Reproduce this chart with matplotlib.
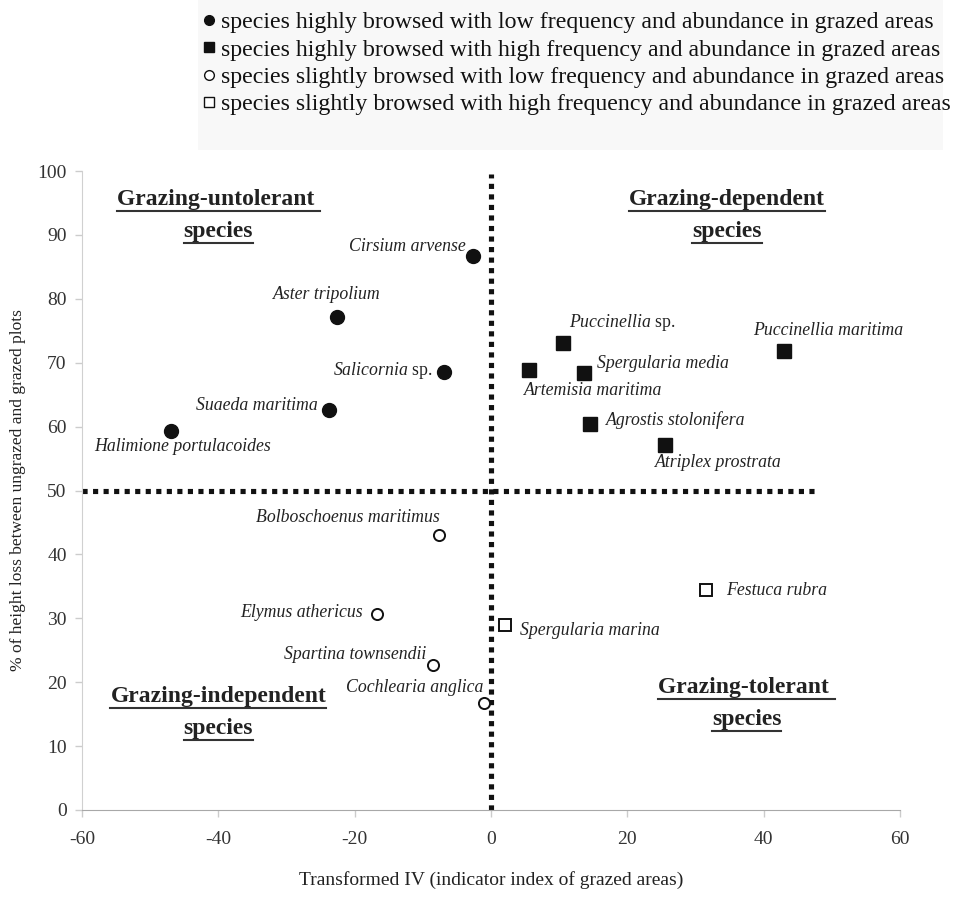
import matplotlib
matplotlib.use("Agg")
import matplotlib.pyplot as plt
from matplotlib.lines import Line2D
from matplotlib.patches import Rectangle

plt.rcParams['font.family'] = ['Liberation Serif', 'DejaVu Serif']
plt.rcParams['mathtext.fontset'] = 'custom'
plt.rcParams['mathtext.it'] = 'Liberation Serif:italic'
plt.rcParams['mathtext.rm'] = 'Liberation Serif'

# ---- data ----
hb_low_names = ["Cirsium arvense", "Aster tripolium", "$\\mathit{Salicornia}$ sp.",
                "Suaeda maritima", "Halimione portulacoides"]
hb_low_x = [-2.6, -22.6, -6.9, -23.8, -46.9]
hb_low_y = [86.7, 77.2, 68.5, 62.6, 59.3]

hb_high_names = ["$\\mathit{Puccinellia}$ sp.", "Artemisia maritima", "Spergularia media",
                 "Puccinellia maritima", "Agrostis stolonifera", "Atriplex prostrata"]
hb_high_x = [10.6, 5.6, 13.6, 43.0, 14.5, 25.5]
hb_high_y = [73.1, 68.9, 68.4, 71.8, 60.4, 57.1]

sb_low_names = ["Bolboschoenus maritimus", "Elymus athericus", "Spartina townsendii",
                "Cochlearia anglica"]
sb_low_x = [-7.6, -16.7, -8.5, -1.0]
sb_low_y = [43.0, 30.7, 22.7, 16.7]

sb_high_names = ["Spergularia marina", "Festuca rubra"]
sb_high_x = [2.1, 31.5]
sb_high_y = [29.0, 34.4]

legend_labels = [
    "species highly browsed with low frequency and abundance in grazed areas",
    "species highly browsed with high frequency and abundance in grazed areas",
    "species slightly browsed with low frequency and abundance in grazed areas",
    "species slightly browsed with high frequency and abundance in grazed areas",
]
x_ticks = [-60, -40, -20, 0, 20, 40, 60]
y_ticks = [0, 10, 20, 30, 40, 50, 60, 70, 80, 90, 100]

# label offsets in pixels (dx, dy, ha)
hb_low_off = [(-8, 9, 'right'), (-10, 22, 'center'), (-12, 2, 'right'), (-11, 4, 'right'), (11, -15, 'center')]
hb_high_off = [(6, 20, 'left'), (-5, -21, 'left'), (13, 9, 'left'), (-31, 21, 'left'), (16, 4, 'left'), (-10, -17, 'left')]
sb_low_off = [(1, 18, 'right'), (-14, 1, 'right'), (-7, 10, 'right'), (-1, 16, 'right')]
sb_high_off = [(15, -6, 'left'), (20, 0, 'left')]

fig = plt.figure(figsize=(9.6, 8.98), dpi=100)
ax = fig.add_axes([82/960, 88/898, 818/960, 639/898])

# legend background
fig.patches.append(Rectangle((198/960, 1 - 150/898), 745/960, 150/898,
                             transform=fig.transFigure, facecolor='#f8f8f8',
                             edgecolor='none', zorder=0))

# reference lines
ax.plot([0, 0], [0, 99.5], color='#111111', lw=3.7, linestyle=(0, (1, 1.05)),
        dash_capstyle='butt', zorder=2)
ax.plot([-60, 48], [50, 50], color='#111111', lw=3.7, linestyle=(0, (1, 1.05)),
        dash_capstyle='butt', zorder=2)

ax.plot(hb_low_x, hb_low_y, 'o', ms=10, color='#111111', ls='none', zorder=3)
ax.plot(hb_high_x, hb_high_y, 's', ms=9.5, color='#111111', ls='none', zorder=3)
ax.plot(sb_low_x, sb_low_y, 'o', ms=8, mfc='white', mec='#111111', mew=1.4, ls='none', zorder=3)
ax.plot(sb_high_x, sb_high_y, 's', ms=8.5, mfc='white', mec='#111111', mew=1.4, ls='none', zorder=3)

def label(names, xs, ys, offs):
    for n, x, y, (dx, dy, ha) in zip(names, xs, ys, offs):
        style = 'normal' if '$' in n else 'italic'
        ax.annotate(n, (x, y), xytext=(dx, dy), textcoords='offset pixels',
                    ha=ha, va='center', fontsize=12.8, fontstyle=style, color='#222222')

label(hb_low_names, hb_low_x, hb_low_y, hb_low_off)
label(hb_high_names, hb_high_x, hb_high_y, hb_high_off)
label(sb_low_names, sb_low_x, sb_low_y, sb_low_off)
label(sb_high_names, sb_high_x, sb_high_y, sb_high_off)

# quadrant titles
quad = [("Grazing-untolerant ", -40.0, 95.5), ("species", -40.0, 90.5),
        ("Grazing-dependent", 34.6, 95.5), ("species", 34.6, 90.5),
        ("Grazing-independent", -40.0, 17.7), ("species", -40.0, 12.7),
        ("Grazing-tolerant ", 37.5, 19.1), ("species", 37.5, 14.2)]
qtexts = []
for t, x, y in quad:
    qtexts.append(ax.text(x, y, t, ha='center', va='center', fontsize=17,
                          fontweight='bold', color='#222222'))

ax.set_xlim(-60, 60)
ax.set_ylim(0, 100)
ax.set_xticks(x_ticks)
ax.set_yticks(y_ticks)
ax.set_xticklabels([str(v) for v in x_ticks])
ax.tick_params(axis='both', labelsize=14, colors='#333333', direction='out', length=5, width=1)
ax.tick_params(axis='x', pad=10, color='#cccccc')
ax.tick_params(axis='y', pad=6, color='#cccccc')
for s in ['top', 'right']:
    ax.spines[s].set_visible(False)
ax.spines['left'].set_color('#d0d0d0')
ax.spines['bottom'].set_color('#a8a8a8')
ax.set_xlabel("Transformed IV (indicator index of grazed areas)", fontsize=14,
              color='#222222', labelpad=17)
ax.set_ylabel("% of height loss between ungrazed and grazed plots", fontsize=12.5,
              color='#222222', labelpad=8)
ax.patch.set_alpha(0)

handles = [
    Line2D([], [], marker='o', ls='none', color='#111111', ms=7),
    Line2D([], [], marker='s', ls='none', color='#111111', ms=6.5),
    Line2D([], [], marker='o', ls='none', mfc='white', mec='#111111', mew=1.0, ms=7),
    Line2D([], [], marker='s', ls='none', mfc='white', mec='#111111', mew=1.0, ms=7),
]
leg = fig.legend(handles, legend_labels, loc='upper left',
                 bbox_to_anchor=(186/960, 1 + 5/898), frameon=False,
                 fontsize=17.2, handlelength=0.5, handletextpad=0.28,
                 labelspacing=0.23, borderpad=0.2)
for t in leg.get_texts():
    t.set_color('#111111')

# underline quadrant titles
fig.canvas.draw()
r = fig.canvas.get_renderer()
inv = fig.transFigure.inverted()
for t in qtexts:
    bb = t.get_window_extent(renderer=r)
    (x0, y0) = inv.transform((bb.x0, bb.y0 - 1))
    (x1, _) = inv.transform((bb.x1, bb.y0 - 1))
    fig.add_artist(Line2D([x0, x1], [y0, y0], transform=fig.transFigure,
                          color='#333333', lw=1.5))

fig.savefig("out.png", dpi=100)
